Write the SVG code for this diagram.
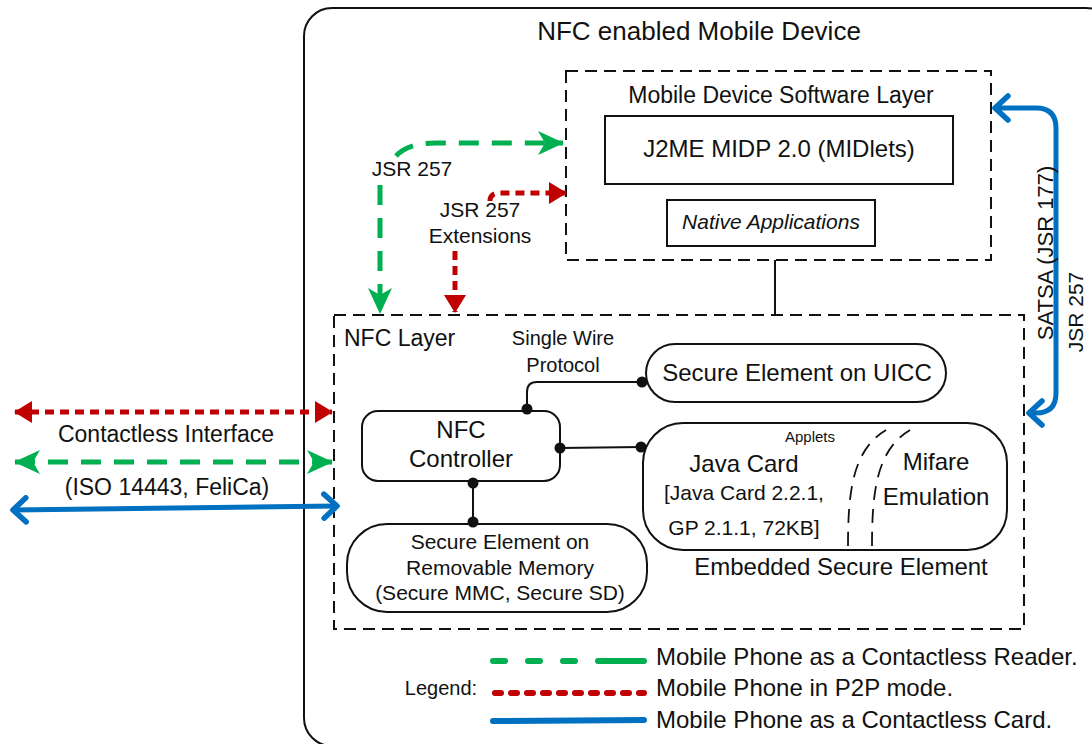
<svg xmlns="http://www.w3.org/2000/svg" width="1092" height="744" viewBox="0 0 1092 744">
  <style>
    text { font-family: "Liberation Sans", Arial, sans-serif; fill: #111; }
    .box { fill: #fff; stroke: #111; stroke-width: 2; }
    .dbox { fill: none; stroke: #111; stroke-width: 2; stroke-dasharray: 12 7; }
    .wire { fill: none; stroke: #111; stroke-width: 2; }
    .dot { fill: #111; }
    .green { fill: none; stroke: #00B050; stroke-width: 5; stroke-dasharray: 20 13; }
    .red { fill: none; stroke: #C00000; stroke-width: 5; stroke-dasharray: 9 6; }
    .blue { fill: none; stroke: #0070C0; stroke-width: 5; stroke-linecap: round; stroke-linejoin: round; }
    .curve { fill: none; stroke: #111; stroke-width: 1.8; stroke-dasharray: 14 9; }
  </style>
  <defs>
    <marker id="redHead" markerUnits="userSpaceOnUse" viewBox="0 0 18 22" refX="17" refY="11" markerWidth="18" markerHeight="22" orient="auto-start-reverse">
      <path d="M0,0 L18,11 L0,22 z" fill="#C00000"/>
    </marker>
    <marker id="greenHead" markerUnits="userSpaceOnUse" viewBox="0 0 26 24" refX="25" refY="12" markerWidth="26" markerHeight="24" orient="auto-start-reverse">
      <path d="M0,0 L26,12 L0,24 L7,12 z" fill="#00B050"/>
    </marker>
    <marker id="blueHead" markerUnits="userSpaceOnUse" viewBox="0 0 20 30" refX="17" refY="15" markerWidth="20" markerHeight="30" orient="auto-start-reverse">
      <path d="M4,3 L17,15 L4,27" fill="none" stroke="#0070C0" stroke-width="5.5" stroke-linecap="round" stroke-linejoin="round"/>
    </marker>
  </defs>

  <!-- device outline -->
  <g id="device">
    <rect x="304" y="8" width="810" height="738" rx="28" fill="#fff" stroke="#111" stroke-width="2"/>
    <text x="699" y="40" font-size="26" text-anchor="middle">NFC enabled Mobile Device</text>
  </g>

  <!-- software layer -->
  <g id="software-layer">
    <rect class="dbox" x="566" y="71" width="425" height="189"/>
    <text x="781" y="103" font-size="23" text-anchor="middle">Mobile Device Software Layer</text>
  </g>
  <g id="j2me">
    <rect class="box" x="605" y="116" width="348" height="68"/>
    <text x="779" y="157" font-size="24" text-anchor="middle">J2ME MIDP 2.0 (MIDlets)</text>
  </g>
  <g id="native-apps">
    <rect class="box" x="667" y="200" width="208" height="46"/>
    <text x="771" y="229" font-size="21" font-style="italic" text-anchor="middle">Native Applications</text>
  </g>

  <!-- NFC layer -->
  <g id="nfc-layer">
    <rect class="dbox" x="334" y="315" width="690" height="314"/>
    <text x="344" y="346" font-size="23">NFC Layer</text>
  </g>
  <g id="nfc-controller">
    <rect class="box" x="362" y="411" width="198" height="70" rx="16"/>
    <text x="461" y="438" font-size="24" text-anchor="middle">NFC</text>
    <text x="461" y="467" font-size="24" text-anchor="middle">Controller</text>
  </g>
  <g id="se-uicc">
    <rect class="box" x="646" y="344" width="300" height="58" rx="29"/>
    <text x="797" y="381" font-size="24" text-anchor="middle">Secure Element on UICC</text>
  </g>
  <g id="se-removable">
    <rect class="box" x="347" y="524" width="300" height="88" rx="40"/>
    <text x="500" y="549" font-size="21" text-anchor="middle">Secure Element on</text>
    <text x="500" y="575" font-size="21" text-anchor="middle">Removable Memory</text>
    <text x="500" y="600" font-size="21" text-anchor="middle">(Secure MMC, Secure SD)</text>
  </g>
  <g id="se-embedded">
    <rect class="box" x="643" y="423" width="364" height="127" rx="40"/>
    <text x="810" y="442" font-size="15" text-anchor="middle">Applets</text>
    <text x="744" y="472" font-size="24" text-anchor="middle">Java Card</text>
    <text x="744" y="500" font-size="21" text-anchor="middle">[Java Card 2.2.1,</text>
    <text x="744" y="535" font-size="21" text-anchor="middle">GP 2.1.1, 72KB]</text>
    <path class="curve" d="M848,546 C848,490 853,450 886,430"/>
    <path class="curve" d="M872,546 C872,490 877,450 910,430"/>
    <text x="936" y="470" font-size="24" text-anchor="middle">Mifare</text>
    <text x="936" y="505" font-size="24" text-anchor="middle">Emulation</text>
    <text x="841" y="575" font-size="24" text-anchor="middle">Embedded Secure Element</text>
  </g>

  <!-- connectors -->
  <g id="connectors">
    <line class="wire" x1="775" y1="260" x2="775" y2="315" stroke-width="2.5"/>
    <path class="wire" d="M527,409 V392 Q527,382 537,382 H642"/>
    <circle class="dot" cx="527" cy="409" r="5.5"/>
    <circle class="dot" cx="642" cy="382" r="5.5"/>
    <text x="563" y="345" font-size="20" text-anchor="middle">Single Wire</text>
    <text x="563" y="372" font-size="20" text-anchor="middle">Protocol</text>

    <line class="wire" x1="560" y1="448" x2="641" y2="447"/>
    <circle class="dot" cx="560" cy="448" r="5.5"/>
    <circle class="dot" cx="641" cy="447" r="5.5"/>

    <line class="wire" x1="473" y1="483" x2="473" y2="522"/>
    <circle class="dot" cx="473" cy="483" r="5.5"/>
    <circle class="dot" cx="473" cy="522" r="5.5"/>

    <!-- JSR 257 (reader) -->
    <path class="green" d="M380,185 V313" marker-end="url(#greenHead)"/>
    <path class="green" d="M396,156 Q408,143 436,143 H563" marker-end="url(#greenHead)"/>
    <text x="412" y="176" font-size="21" text-anchor="middle">JSR 257</text>

    <!-- JSR 257 extensions (P2P) -->
    <path class="red" d="M490,201 Q490,193 500,193 H566" marker-end="url(#redHead)"/>
    <path class="red" d="M455,251 V312" marker-end="url(#redHead)"/>
    <text x="480" y="217" font-size="21" text-anchor="middle">JSR 257</text>
    <text x="480" y="243" font-size="21" text-anchor="middle">Extensions</text>

    <!-- SATSA / JSR 257 (card) -->
    <path class="blue" d="M995,108 H1036 Q1056,108 1056,128 V393 Q1056,413 1036,413 H1029" marker-start="url(#blueHead)" marker-end="url(#blueHead)"/>
    <text transform="translate(1053,253) rotate(-90)" font-size="22" text-anchor="middle">SATSA (JSR 177)</text>
    <text transform="translate(1083,312) rotate(-90)" font-size="21" text-anchor="middle">JSR 257</text>

    <!-- contactless interface -->
    <line class="red" x1="15" y1="412" x2="332" y2="412" marker-start="url(#redHead)" marker-end="url(#redHead)"/>
    <line class="green" x1="15" y1="462" x2="332" y2="462" marker-start="url(#greenHead)" marker-end="url(#greenHead)"/>
    <line class="blue" x1="13" y1="510" x2="337" y2="506" marker-start="url(#blueHead)" marker-end="url(#blueHead)"/>
    <text x="166" y="442" font-size="23" text-anchor="middle">Contactless Interface</text>
    <text x="167" y="495" font-size="23" text-anchor="middle">(ISO 14443, FeliCa)</text>
  </g>

  <!-- legend -->
  <g id="legend">
    <text x="441" y="695" font-size="20" text-anchor="middle">Legend:</text>
    <line x1="493" y1="661" x2="644" y2="661" stroke="#00B050" stroke-width="6" stroke-linecap="round" stroke-dasharray="12 23 12 23 12 23 60"/>
    <line x1="495" y1="693" x2="644" y2="693" stroke="#C00000" stroke-width="6" stroke-linecap="round" stroke-dasharray="6 10"/>
    <line x1="493" y1="721" x2="644" y2="720" stroke="#0070C0" stroke-width="6" stroke-linecap="round"/>
    <text x="656" y="665" font-size="24">Mobile Phone as a Contactless Reader.</text>
    <text x="656" y="696" font-size="24">Mobile Phone in P2P mode.</text>
    <text x="656" y="728" font-size="24">Mobile Phone as a Contactless Card.</text>
  </g>
</svg>
